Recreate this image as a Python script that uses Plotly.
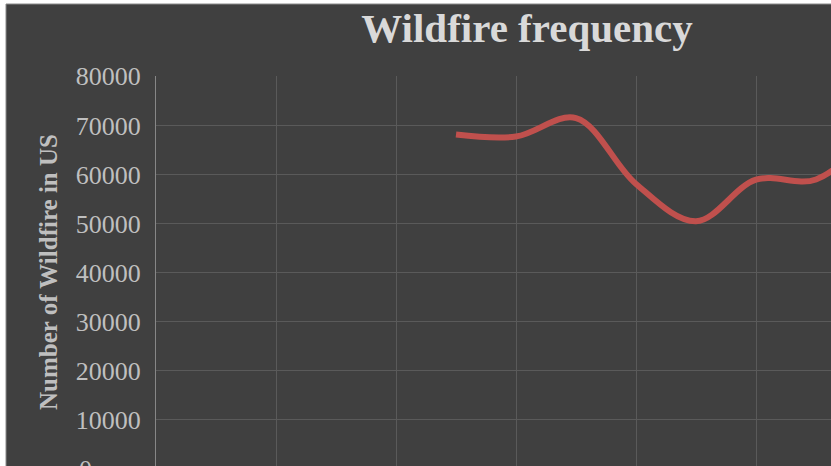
import plotly.graph_objects as go

# Data
years = [2015, 2016, 2017, 2018, 2019, 2020, 2021, 2022]
fires = [68151, 67743, 71499, 58083, 50477, 58950, 58985, 68988]
y_ticks = [10000, 20000, 30000, 40000, 50000, 60000, 70000, 80000]
y_tick_text = ["10000", "20000", "30000", "40000", "50000", "60000", "70000", "80000"]
title_text = "Wildfire frequency"
y_title = "Number of Wildfire in US"

W, H = 831, 466
ML, MR, MT, MB = 156, 0, 76, 0
PW = W - ML - MR
PH = H - MT - MB

def px_x(p):
    return (p - ML) / PW

def px_y(p):
    return (H - MB - p) / PH

BG = "#404040"
GRID = "#5a5a5a"
AXIS = "#878787"
TICK = "#bfbfbf"
TITLE = "#d9d9d9"

fig = go.Figure()
fig.add_trace(go.Scatter(
    x=years, y=fires, mode="lines",
    line=dict(color="#c0504d", width=6, shape="spline", smoothing=1.0),
    showlegend=False, hoverinfo="skip",
))

fig.update_layout(
    width=W, height=H,
    margin=dict(l=ML, r=MR, t=MT, b=MB, pad=0),
    paper_bgcolor="white",
    plot_bgcolor=BG,
    showlegend=False,
    title=dict(text="<b>" + title_text + "</b>", x=px_x(527), xref="paper", xanchor="center",
               y=1 - 28 / H, yref="container", yanchor="middle",
               font=dict(family="Liberation Serif", size=41, color=TITLE)),
    xaxis=dict(range=[2010, 2010 + PW / 60.0], tick0=2010, dtick=2, showgrid=True,
               gridcolor=GRID, gridwidth=1, showticklabels=False, zeroline=False,
               showline=False, ticks=""),
    yaxis=dict(range=[611, 80080], tickvals=y_ticks, ticktext=y_tick_text,
               showgrid=True, gridcolor=GRID, gridwidth=1, zeroline=False,
               showline=True, linecolor=AXIS, linewidth=1, ticks="",
               ticklabelstandoff=9,
               tickfont=dict(family="Liberation Serif", size=26, color=TICK)),
    shapes=[dict(type="rect", xref="paper", yref="paper",
                 x0=px_x(6), x1=px_x(W + 5), y0=px_y(H + 5), y1=px_y(4),
                 fillcolor=BG, line=dict(color="#8a8a8a", width=1), layer="below")],
    annotations=[
        dict(text="<b>" + y_title + "</b>", xref="paper", yref="paper",
             x=px_x(48), y=px_y(272), xanchor="center", yanchor="middle",
             textangle=-90, showarrow=False,
             font=dict(family="Liberation Serif", size=25, color=TICK)),
        dict(text="0", xref="paper", yref="paper", x=px_x(77), y=px_y(469),
             xanchor="left", yanchor="middle", showarrow=False,
             font=dict(family="Liberation Serif", size=26, color=TICK)),
    ],
)

fig.write_html("out.html", config={"displayModeBar": False},
               post_script="document.body.style.margin='0';document.body.style.overflow='hidden';")
